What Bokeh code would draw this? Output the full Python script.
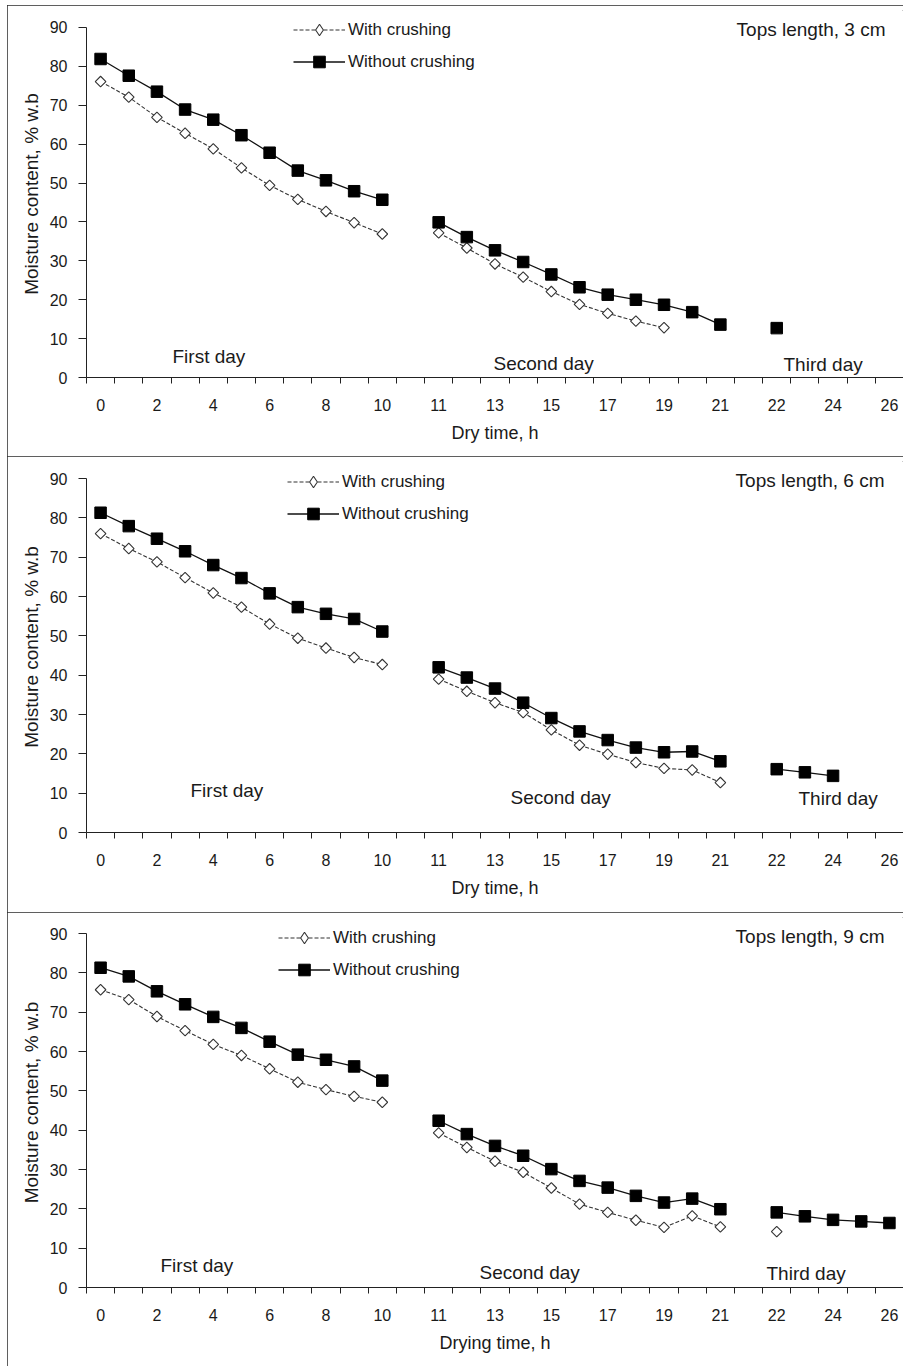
import math
from bokeh.plotting import figure
from bokeh.models import Range1d, FixedTicker, Legend, LegendItem, Label, Spacer
from bokeh.layouts import column, row
from bokeh.embed import file_html
from bokeh.resources import INLINE

# ---------------- data ----------------
# hour categories along the x axis (blank entries are the gaps between days)
categories = ["0", "1", "2", "3", "4", "5", "6", "7", "8", "9", "10", "",
              "11", "12", "13", "14", "15", "16", "17", "18", "19", "20", "21", "",
              "22", "23", "24", "25", "26"]
N = float("nan")

# Tops length, 3 cm
with_3 = [76.1, 72.1, 66.9, 62.8, 58.8, 53.9, 49.4, 45.8, 42.7, 39.8, 36.9, N,
          37.2, 33.3, 29.2, 25.8, 22.1, 18.8, 16.5, 14.5, 12.8, N, N, N,
          N, N, N, N, N]
without_3 = [81.9, 77.6, 73.5, 68.9, 66.3, 62.3, 57.8, 53.2, 50.7, 47.9, 45.7, N,
             39.9, 36.1, 32.7, 29.7, 26.5, 23.2, 21.3, 20.0, 18.7, 16.8, 13.6, N,
             12.7, N, N, N, N]

# Tops length, 6 cm
with_6 = [76.0, 72.2, 68.8, 64.8, 60.9, 57.3, 53.0, 49.4, 46.9, 44.5, 42.7, N,
          39.0, 35.9, 33.0, 30.5, 26.1, 22.2, 19.9, 17.8, 16.3, 15.9, 12.7, N,
          N, N, N, N, N]
without_6 = [81.3, 77.9, 74.7, 71.5, 68.0, 64.7, 60.8, 57.3, 55.6, 54.3, 51.1, N,
             42.0, 39.4, 36.6, 33.0, 29.1, 25.7, 23.5, 21.6, 20.4, 20.6, 18.1, N,
             16.1, 15.3, 14.4, N, N]

# Tops length, 9 cm
with_9 = [75.7, 73.2, 68.9, 65.3, 61.8, 59.0, 55.6, 52.2, 50.3, 48.6, 47.1, N,
          39.3, 35.6, 32.1, 29.3, 25.3, 21.2, 19.1, 17.1, 15.3, 18.2, 15.4, N,
          14.2, N, N, N, N]
without_9 = [81.3, 79.1, 75.3, 72.0, 68.8, 66.0, 62.5, 59.2, 57.9, 56.2, 52.6, N,
             42.4, 39.0, 36.0, 33.5, 30.1, 27.1, 25.4, 23.3, 21.6, 22.6, 19.9, N,
             19.1, 18.1, 17.2, 16.8, 16.4]

panel_titles = ["Tops length, 3 cm", "Tops length, 6 cm", "Tops length, 9 cm"]
x_titles = ["Dry time, h", "Dry time, h", "Drying time, h"]
y_title = "Moisture content, % w.b"
series_names = ["With crushing", "Without crushing"]
day_names = ["First day", "Second day", "Third day"]
y_ticks = [0, 10, 20, 30, 40, 50, 60, 70, 80, 90]

# ---------------- styling / layout ----------------
FONT = "Liberation Sans"
TXT = "#1a1a1a"

x_pos = list(range(len(categories)))
shown = [i for i in x_pos if i % 2 == 0]
overrides = {i: categories[i] for i in shown}
minor = [i - 0.5 for i in range(len(categories) + 1)]

# per panel: figure height, frame height, top of y range, legend bottom-left,
# title anchor and day-label anchors (screen px, relative to frame bottom-left)
layouts = [
    dict(h=451, fh=367, ytop=94.37, leg=(207, 301), title=(799, 348),
         days=[(86, 21), (407, 14), (697, 13)]),
    dict(h=456, fh=371, ytop=94.33, leg=(201, 304), title=(798, 352),
         days=[(104, 42), (424, 35), (712, 34)]),
    dict(h=454, fh=370, ytop=94.07, leg=(192, 303), title=(798, 351),
         days=[(74, 22), (393, 15), (680, 14)]),
]


def make_panel(k, with_vals, without_vals):
    L = layouts[k]
    p = figure(width=896, height=L["h"], output_backend="svg", toolbar_location=None,
               x_range=Range1d(-0.5, 28.5), y_range=Range1d(0, L["ytop"]),
               min_border_left=79, min_border_right=0, min_border_top=5,
               min_border_bottom=L["h"] - 5 - L["fh"])
    p.xgrid.visible = False
    p.ygrid.visible = False
    p.outline_line_color = None
    p.background_fill_color = "white"
    p.border_fill_color = "white"
    p.styles = {"outline": "1.5px solid #2a2a2a", "outline-offset": "-1.5px"}

    # lines (broken at NaN between days)
    r_wl = p.line(x_pos, with_vals, line_color="#333333", line_width=1.1, line_dash="4 2")
    r_ol = p.line(x_pos, without_vals, line_color="#111111", line_width=1.3)
    r_ws = p.scatter(x_pos, with_vals, marker="square", angle=math.pi / 4, size=7.5,
                     fill_color="white", line_color="#333333", line_width=1.1)
    r_os = p.scatter(x_pos, without_vals, marker="square", size=11.5,
                     fill_color="#000000", line_color="#000000")
    # legend-only diamond symbol (no data points)
    r_wd = p.scatter([N], [N], marker="diamond", size=10,
                     fill_color="white", line_color="#333333", line_width=1.1)

    # axes
    xa = p.xaxis[0]
    xa.ticker = FixedTicker(ticks=shown, minor_ticks=minor)
    xa.major_label_overrides = overrides
    xa.major_tick_out = 0
    xa.major_tick_in = 0
    xa.minor_tick_out = 6
    xa.minor_tick_in = 0
    xa.major_label_standoff = 15
    xa.axis_label = x_titles[k]
    xa.axis_label_standoff = 9
    xa.axis_label_text_font_size = "18px"
    ya = p.yaxis[0]
    ya.ticker = FixedTicker(ticks=y_ticks)
    ya.bounds = (0, 90)
    ya.major_tick_out = 8
    ya.major_tick_in = 0
    ya.minor_tick_out = 0
    ya.minor_tick_in = 0
    ya.major_label_standoff = 11
    ya.axis_label = y_title
    ya.axis_label_standoff = 5
    ya.axis_label_text_font_size = "19px"
    for ax in (xa, ya):
        ax.axis_line_color = "#222222"
        ax.major_tick_line_color = "#222222"
        ax.minor_tick_line_color = "#222222"
        ax.major_label_text_font = FONT
        ax.major_label_text_font_size = "16px"
        ax.major_label_text_color = TXT
        ax.axis_label_text_font = FONT
        ax.axis_label_text_font_style = "normal"
        ax.axis_label_text_color = TXT

    legend = Legend(items=[LegendItem(label=series_names[0], renderers=[r_wl, r_wd]),
                           LegendItem(label=series_names[1], renderers=[r_ol, r_os])],
                    location=L["leg"], glyph_width=52, glyph_height=29, label_standoff=3,
                    spacing=3, padding=0, margin=0, background_fill_alpha=0,
                    border_line_alpha=0, label_text_font=FONT, label_text_font_size="17px",
                    label_text_color=TXT)
    p.add_layout(legend, "center")

    tx, ty = L["title"]
    p.add_layout(Label(x=tx, y=ty, x_units="screen", y_units="screen", text=panel_titles[k],
                       text_align="right", text_baseline="middle", text_font=FONT,
                       text_font_size="19px", text_color=TXT))
    for name, (dx, dy) in zip(day_names, L["days"]):
        p.add_layout(Label(x=dx, y=dy, x_units="screen", y_units="screen", text=name,
                           text_align="left", text_baseline="middle", text_font=FONT,
                           text_font_size="19px", text_color=TXT))
    return p


p1 = make_panel(0, with_3, without_3)
p2 = make_panel(1, with_6, without_6)
p3 = make_panel(2, with_9, without_9)
layout = column(Spacer(height=5),
                row(Spacer(width=7), column(p1, p2, p3, spacing=0), spacing=0),
                spacing=0)

open("out.html", "w").write(file_html(layout, INLINE))
